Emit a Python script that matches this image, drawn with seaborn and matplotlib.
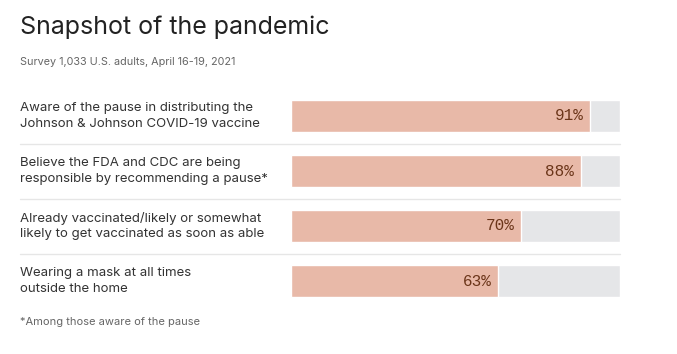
import matplotlib
matplotlib.use('Agg')
import matplotlib.pyplot as plt
import seaborn as sns
import pandas as pd

# data
labels = [
    'Aware of the pause in distributing the\nJohnson & Johnson COVID-19 vaccine',
    'Believe the FDA and CDC are being\nresponsible by recommending a pause*',
    'Already vaccinated/likely or somewhat\nlikely to get vaccinated as soon as able',
    'Wearing a mask at all times\noutside the home',
]
values = [91, 88, 70, 63]
track = [100, 100, 100, 100]

df = pd.DataFrame({'label': labels, 'value': values, 'track': track})

sns.set_theme(style='white')
plt.rcParams['font.family'] = ['Inter', 'DejaVu Sans']

W, H = 677, 354
fig = plt.figure(figsize=(W / 100, H / 100), dpi=100)
ax = fig.add_axes([291 / W, 1 - 308.5 / H, 329 / W, 220 / H])

sns.barplot(data=df, x='track', y='label', color='#e5e6e8', width=0.58,
            ax=ax, saturation=1)
sns.barplot(data=df, x='value', y='label', color='#e8b9a8', width=0.58,
            ax=ax, saturation=1)

ax.set_xlim(0, 100)
ax.set_ylim(3.5, -0.5)
ax.set_xlabel('')
ax.set_ylabel('')
ax.set_xticks([])
ax.set_yticks([])
sns.despine(ax=ax, left=True, bottom=True)

# value labels inside the bar end
for i, v in enumerate(values):
    ax.annotate(f'{v}%', xy=(v, i), xytext=(-7, 0), textcoords='offset pixels',
                ha='right', va='center', fontsize=11.5, color='#6b3519',
                family='Liberation Mono')

# row labels
x_left = (20 - 291) / 329
for i, lab in enumerate(labels):
    ax.text(x_left, i, lab, transform=ax.get_yaxis_transform(), ha='left',
            va='center', fontsize=9.5, color='#333333', linespacing=1.4)

# separators
for i in range(3):
    ax.plot([x_left, 1], [i + 0.5, i + 0.5], transform=ax.get_yaxis_transform(),
            color='#e6e6e6', lw=1, clip_on=False)

fig.text(20 / W, 1 - 27 / H, 'Snapshot of the pandemic', ha='left', va='center',
         fontsize=18, color='#222222')
fig.text(20 / W, 1 - 62 / H, 'Survey 1,033 U.S. adults, April 16-19, 2021',
         ha='left', va='center', fontsize=7.8, color='#666666')
fig.text(20 / W, 1 - 322 / H, '*Among those aware of the pause',
         ha='left', va='center', fontsize=8, color='#666666')

fig.savefig('out.png', dpi=100, facecolor='white')
